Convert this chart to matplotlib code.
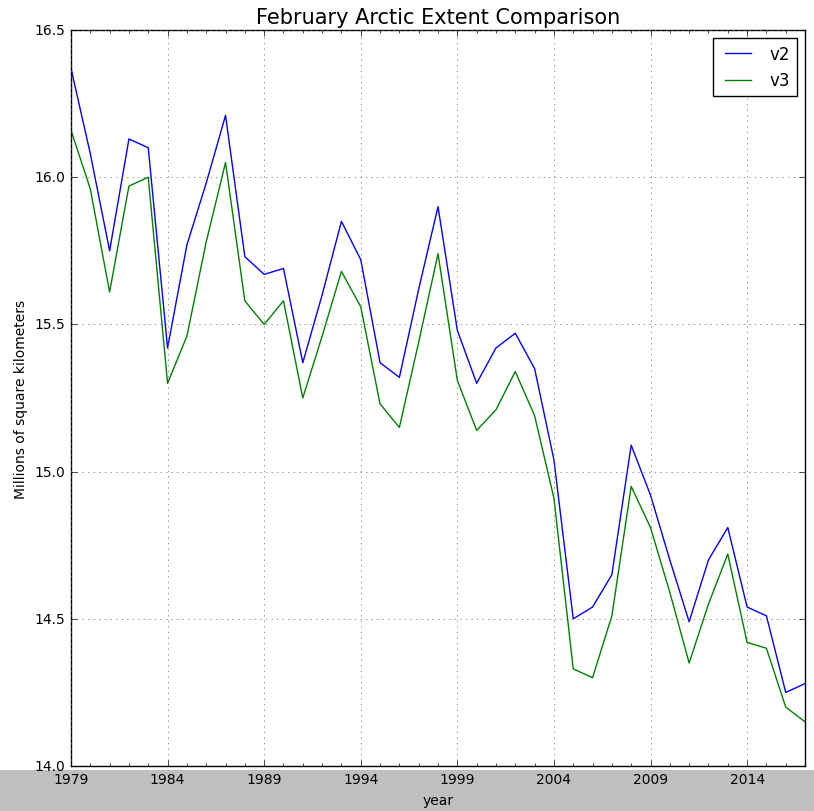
import numpy as np
import matplotlib
matplotlib.use('Agg')
import matplotlib.pyplot as plt
from matplotlib.patches import Rectangle

# February extent, millions of km^2
years = list(range(1979, 2018))
v2 = [16.37, 16.08, 15.75, 16.13, 16.10, 15.42, 15.77, 15.98, 16.21, 15.73,
      15.67, 15.69, 15.37, 15.60, 15.85, 15.72, 15.37, 15.32, 15.62, 15.90,
      15.48, 15.30, 15.42, 15.47, 15.35, 15.04, 14.50, 14.54, 14.65, 15.09,
      14.92, 14.70, 14.49, 14.70, 14.81, 14.54, 14.51, 14.25, 14.28]
v3 = [16.16, 15.96, 15.61, 15.97, 16.00, 15.30, 15.46, 15.78, 16.05, 15.58,
      15.50, 15.58, 15.25, 15.46, 15.68, 15.56, 15.23, 15.15, 15.44, 15.74,
      15.31, 15.14, 15.21, 15.34, 15.19, 14.91, 14.33, 14.30, 14.51, 14.95,
      14.81, 14.59, 14.35, 14.55, 14.72, 14.42, 14.40, 14.20, 14.15]

plt.style.use('classic')
fig = plt.figure(figsize=(8.14, 8.12), dpi=100, facecolor='white')
ax = fig.add_axes([0.0872, 0.0554, 0.9018, 0.9064])

# grey strip along the bottom, like the reference (behind the axes)
fig.patches.append(Rectangle((0, 0), 1, 0.051, transform=fig.transFigure,
                             facecolor='0.75', edgecolor='none', zorder=-5))

ax.plot(years, v2, 'b-', lw=1, label='v2')
ax.plot(years, v3, 'g-', lw=1, label='v3')

ax.set_xlim(1979, 2017)
ax.set_ylim(14.0, 16.5)
ax.set_xticks(range(1979, 2018, 5))
ax.set_xticks(years, minor=True)
ax.set_yticks(np.arange(14.0, 16.51, 0.5))
ax.ticklabel_format(useOffset=False)
ax.tick_params(labelsize=10)
ax.grid(True, which='major', color='0.4', linestyle=':')

ax.set_title('February Arctic Extent Comparison', fontsize=15)
ax.set_xlabel('year', fontsize=10, labelpad=5)
ax.set_ylabel('Millions of square kilometers', fontsize=10)
ax.legend(loc='upper right', fontsize=12, handlelength=2.2)

fig.savefig('out.png', dpi=100, facecolor='white')
